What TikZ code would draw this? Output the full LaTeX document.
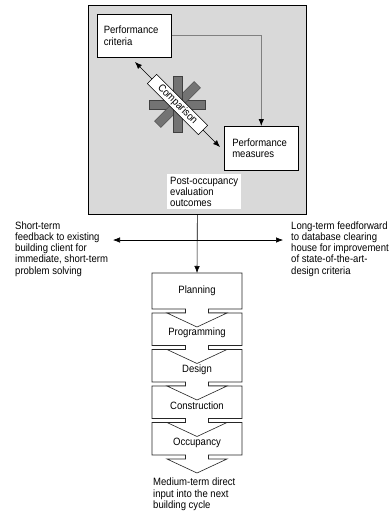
\documentclass[tikz,border=0pt]{standalone}
\usepackage{fontspec}
\setmainfont[FakeStretch=0.9]{Liberation Sans}
\usetikzlibrary{arrows.meta,calc}
\begin{document}
\begin{tikzpicture}[x=1pt,y=-1pt,
  txt/.style={font=\fontsize{10.6}{11.2}\selectfont, align=left, inner sep=0pt},
  whitebox/.style={draw=black, fill=white, line width=0.6pt},
  stagepath/.style={draw=black!85, fill=white, line width=0.6pt},
  arr/.style={-{Latex[length=7pt,width=5.5pt]}, line width=0.6pt},
  dblarr/.style={{Latex[length=7pt,width=5.5pt]}-{Latex[length=7pt,width=5.5pt]}, line width=0.6pt},
  conn/.style={draw=black!50, line width=0.8pt, -{Latex[length=7pt,width=5.5pt,color=black]}},
  starbar/.style={draw=black!75, fill=black!55, line width=0.4pt},
  stagetext/.style={txt, align=center},
]
\useasboundingbox (0,0) rectangle (390,515);
\fill[white] (0,0) rectangle (390,515);

% upper gray frame
\node[draw=black, fill=black!15, line width=0.7pt, minimum width=218pt, minimum height=209pt, anchor=north west, inner sep=0pt] (frame) at (88,5) {};

% boxes
\node[whitebox, txt, anchor=north west, minimum width=74pt, minimum height=43pt, text width=61pt, inner xsep=6.5pt, inner ysep=0pt] (crit) at (97,14) {Performance\\criteria};
\node[whitebox, txt, anchor=north west, minimum width=74pt, minimum height=44pt, text width=58pt, inner xsep=8pt, inner ysep=0pt] (meas) at (224,126) {Performance\\measures};

% gray connector
\draw[conn] (crit.east) -| (meas.north);

% comparison
\coordinate (c) at (177.5,104.5);
\coordinate (ca) at (135,62);
\coordinate (cb) at (220,147);
\foreach \a in {0,45,90,135}
  \path[starbar, rotate around={\a:(c)}] ($(c)+(-28,-4.5)$) rectangle ($(c)+(28,4.5)$);
\draw[dblarr] (ca) -- (cb);
\node[whitebox, txt, align=center, rotate=-45, minimum width=72pt, minimum height=13pt, line width=0.5pt] (cmp) at (c) {Comparison};

% POE label
\node[fill=white, txt, anchor=north west, inner xsep=3pt, inner ysep=1.5pt, minimum width=73pt, minimum height=35pt] (poe) at (167,174) {Post-occupancy\\evaluation\\outcomes};

% stages (drawn bottom to top)
\def\stage#1#2{% top, bottom
  \path[stagepath] (152,#1) -- (242,#1) -- (242,#2) -- (208.5,#2) -- (208.5,#2+4) -- (227,#2+4) -- (197,#2+18) -- (167,#2+4) -- (185.5,#2+4) -- (185.5,#2) -- (152,#2) -- cycle;}
\stage{422.5}{455}
\stage{386}{418.5}
\stage{349.5}{382}
\stage{313}{345.5}
\stage{273}{309}
\node[stagetext] (s1) at (197,291) {Planning};
\node[stagetext] (s2) at (197,333) {Programming};
\node[stagetext] (s3) at (197,369.5) {Design};
\node[stagetext] (s4) at (197,406) {Construction};
\node[stagetext] (s5) at (197,443) {Occupancy};
\coordinate (plantop) at (197,273);

% main flow arrows
\coordinate (hl) at (113,240);
\coordinate (hr) at (283,240);
\draw[arr] (frame.south) -- (plantop);
\draw[dblarr] (hl) -- (hr);

% side texts
\node[txt, anchor=north west] (st) at (15,221.5) {Short-term\\feedback to existing\\building client for\\immediate, short-term\\problem solving};
\node[txt, anchor=north west] (lt) at (291,221.5) {Long-term feedforward\\to database clearing\\house for improvement\\of state-of-the-art-\\design criteria};
\node[txt, anchor=north west] (mt) at (153,478) {Medium-term direct\\input into the next\\building cycle};
\end{tikzpicture}
\end{document}
